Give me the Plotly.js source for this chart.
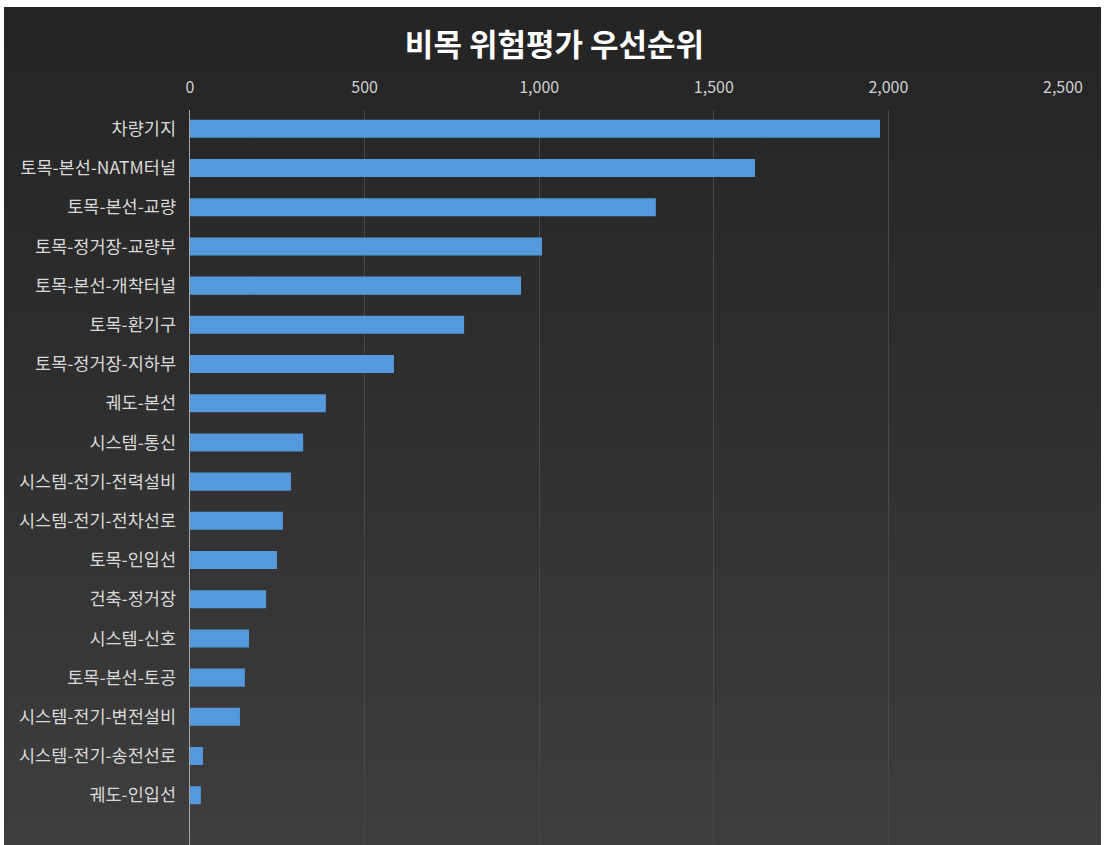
<!DOCTYPE html>
<html>
<head>
<meta charset="utf-8">
<script src="https://cdn.plot.ly/plotly-3.0.1.min.js"></script>
<style>
  html, body { margin: 0; padding: 0; background: #ffffff; }
  #bg { position: absolute; left: 4px; top: 7px; width: 1097px; height: 838px;
        background: linear-gradient(to bottom, #242424 0%, #2e2e2e 45%, #3e3e3e 100%); }
  #chart { position: absolute; left: 0; top: 0; width: 1109px; height: 845px; }
</style>
</head>
<body>
<div id="bg"></div>
<div id="chart"></div>
<script>
const chartTitle = "비목 위험평가 우선순위";
const categories = [
  "차량기지",
  "토목-본선-NATM터널",
  "토목-본선-교량",
  "토목-정거장-교량부",
  "토목-본선-개착터널",
  "토목-환기구",
  "토목-정거장-지하부",
  "궤도-본선",
  "시스템-통신",
  "시스템-전기-전력설비",
  "시스템-전기-전차선로",
  "토목-인입선",
  "건축-정거장",
  "시스템-신호",
  "토목-본선-토공",
  "시스템-전기-변전설비",
  "시스템-전기-송전선로",
  "궤도-인입선"
];
const values = [1976, 1618, 1334, 1008, 948, 785, 584, 389, 324, 289, 266, 249, 218, 169, 157, 143, 37, 31];
const xTicks = [0, 500, 1000, 1500, 2000, 2500];

const FONT = '"Noto Sans CJK KR", "Noto Sans", sans-serif';

Plotly.newPlot('chart', [{
  type: 'bar',
  orientation: 'h',
  x: values,
  y: categories,
  width: 0.46,
  marker: { color: '#5599dd', line: { width: 0 } },
  hoverinfo: 'x+y'
}], {
  width: 1109, height: 845,
  paper_bgcolor: 'rgba(0,0,0,0)',
  plot_bgcolor: 'rgba(0,0,0,0)',
  margin: { l: 190, r: 46, t: 110, b: 0, pad: 0 },
  showlegend: false,
  title: {
    text: chartTitle,
    font: { family: FONT, size: 31, color: '#ffffff', weight: 'bold' },
    x: 0.5, xanchor: 'center',
    yref: 'container', y: 1 - 45/845, yanchor: 'middle'
  },
  xaxis: {
    side: 'top',
    range: [0, 2500],
    tickvals: xTicks,
    tickformat: ',d',
    showgrid: true,
    gridcolor: '#484848',
    gridwidth: 1,
    zeroline: false,
    showline: false,
    ticks: '',
    ticklabelstandoff: 13,
    tickfont: { family: FONT, size: 16, color: '#d0d0d0' },
    fixedrange: true
  },
  yaxis: {
    type: 'category',
    range: [18.27, -0.48],
    showgrid: false,
    zeroline: false,
    showline: true,
    linecolor: '#a6a6a6',
    linewidth: 1.5,
    ticks: '',
    ticklabelstandoff: 9,
    tickfont: { family: FONT, size: 17.5, color: '#d9d9d9' },
    fixedrange: true
  },
  bargap: 0.54
}, { displayModeBar: false, staticPlot: true });
</script>
</body>
</html>
